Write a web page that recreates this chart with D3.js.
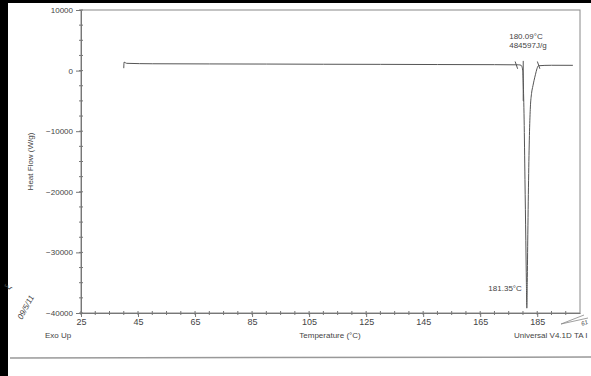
<!DOCTYPE html>
<html>
<head>
<meta charset="utf-8">
<script src="https://cdn.jsdelivr.net/npm/d3@7"></script>
<style>
  body { margin: 0; background: #fff; }
  text { font-family: "Liberation Sans", Arial, sans-serif; fill: #444; }
</style>
</head>
<body>
<script>
// DSC trace
var temps = [40.0, 40.1, 41, 50, 70, 90, 110, 130, 150, 170, 178.5, 179.3, 179.6, 179.9, 180.1, 180.4, 180.7, 181.0, 181.2, 181.35,
             181.5, 181.7, 182.0, 182.3, 182.6, 183.0, 183.5, 183.9, 184.4, 184.9, 185.4, 190, 197.5];
var heatFlow = [400, 1400, 1200, 1130, 1100, 1080, 1050, 1030, 1000, 980, 950, 880, 700, 0, -2000, -8000, -18000, -28000, -35000, -39200,
                -35000, -27000, -17000, -10000, -6000, -3800, -2500, -1600, -600, 300, 800, 880, 870];
var xTicks = [25, 45, 65, 85, 105, 125, 145, 165, 185];
var yTicks = [10000, 0, -10000, -20000, -30000, -40000];
var onsetT = 180.09, peakT = 181.35, peakV = -39200;
var limitsT = [177.6, 185.4];

var svg = d3.select("body").append("svg")
    .attr("width", 591)
    .attr("height", 376);

var x = d3.scaleLinear().domain([25, 200]).range([81, 580]);
var y = d3.scaleLinear().domain([-40000, 10000]).range([313, 10]);

// scan edges
svg.append("rect").attr("x", 0).attr("y", 0).attr("width", 8).attr("height", 376).attr("fill", "#000");
svg.append("rect").attr("x", 0).attr("y", 0).attr("width", 591).attr("height", 3).attr("fill", "#000");
svg.append("line").attr("x1", 10).attr("x2", 591).attr("y1", 358).attr("y2", 357)
    .attr("stroke", "#999").attr("stroke-width", 1.5);

// frame
svg.append("rect").attr("x", x(25)).attr("y", y(10000))
    .attr("width", x(200) - x(25)).attr("height", y(-40000) - y(10000))
    .attr("fill", "none").attr("stroke", "#888").attr("stroke-width", 1);

// y axis
var yAxis = d3.axisLeft(y).tickValues(yTicks).tickSize(5).tickSizeOuter(0).tickFormat(d3.format("d"));
var gy = svg.append("g").attr("transform", "translate(" + x(25) + ",0)").call(yAxis);
gy.select(".domain").attr("stroke", "#777");
gy.selectAll(".tick line").attr("stroke", "#777");
gy.selectAll("text").attr("font-size", 8).attr("fill", "#444").attr("font-family", "Liberation Sans, Arial");

var yMinor = d3.range(-40000, 10001, 2500);
svg.append("g").selectAll("line").data(yMinor).enter().append("line")
    .attr("x1", x(25) - 2).attr("x2", x(25) + 2)
    .attr("y1", function (d) { return y(d); }).attr("y2", function (d) { return y(d); })
    .attr("stroke", "#777");

// x axis
var xAxis = d3.axisBottom(x).tickValues(xTicks).tickSize(4).tickSizeOuter(0).tickPadding(2);
var gx = svg.append("g").attr("transform", "translate(0," + y(-40000) + ")").call(xAxis);
gx.select(".domain").attr("stroke", "#777");
gx.selectAll(".tick line").attr("stroke", "#777");
gx.selectAll("text").attr("font-size", 9).attr("fill", "#444").attr("font-family", "Liberation Sans, Arial");

var xMinor = d3.range(25, 200, 5);
svg.append("g").selectAll("line").data(xMinor).enter().append("line")
    .attr("x1", function (d) { return x(d); }).attr("x2", function (d) { return x(d); })
    .attr("y1", y(-40000) - 2).attr("y2", y(-40000) + 2)
    .attr("stroke", "#777");

// trace
var line = d3.line()
    .x(function (d, i) { return x(temps[i]); })
    .y(function (d) { return y(d); })
    .curve(d3.curveMonotoneX);

svg.append("path")
    .attr("fill", "none")
    .attr("stroke", "#555")
    .attr("stroke-width", 1)
    .attr("d", line(heatFlow));

// onset marker and integration limits
svg.append("line")
    .attr("x1", x(onsetT)).attr("x2", x(onsetT))
    .attr("y1", y(1600)).attr("y2", y(-5000))
    .attr("stroke", "#555").attr("stroke-width", 1);

svg.selectAll("line.lim").data(limitsT).enter().append("line")
    .attr("class", "lim")
    .attr("x1", function (d) { return x(d) - 1; }).attr("x2", function (d) { return x(d) + 1.5; })
    .attr("y1", y(1500)).attr("y2", y(300))
    .attr("stroke", "#555").attr("stroke-width", 1);

// annotations
svg.append("text").attr("x", x(onsetT) - 14).attr("y", 39).attr("font-size", 8).text("180.09°C");
svg.append("text").attr("x", x(onsetT) - 14).attr("y", 48).attr("font-size", 8).text("484597J/g");
svg.append("text").attr("x", x(peakT) - 5).attr("y", y(peakV) - 17).attr("font-size", 8)
    .attr("text-anchor", "end").text(peakT.toFixed(2) + "°C");

// axis titles
svg.append("text")
    .attr("transform", "translate(33," + y(-15000) + ") rotate(-90)")
    .attr("text-anchor", "middle").attr("font-size", 8).text("Heat Flow (W/g)");
svg.append("text").attr("x", 330).attr("y", 338).attr("text-anchor", "middle")
    .attr("font-size", 8).text("Temperature (°C)");
svg.append("text").attr("x", 45).attr("y", 338).attr("font-size", 8).text("Exo Up");
svg.append("text").attr("x", 514).attr("y", 338).attr("font-size", 8).text("Universal V4.1D TA I");

// handwritten marks on the scan
svg.append("text")
    .attr("transform", "translate(22,320) rotate(-62)")
    .attr("font-size", 8).attr("font-style", "italic").attr("fill", "#777").text("09/5/11");
svg.append("text")
    .attr("transform", "translate(10,290) rotate(-70)")
    .attr("font-size", 9).attr("font-style", "italic").attr("fill", "#777").text("ξ");
svg.append("path")
    .attr("d", "M561,324 L584,315 M561,324 L588,318")
    .attr("fill", "none").attr("stroke", "#888").attr("stroke-width", 0.8);
svg.append("text")
    .attr("transform", "translate(582,326) rotate(-20)")
    .attr("font-size", 6).attr("font-style", "italic").attr("fill", "#777").text("61");
</script>
</body>
</html>
